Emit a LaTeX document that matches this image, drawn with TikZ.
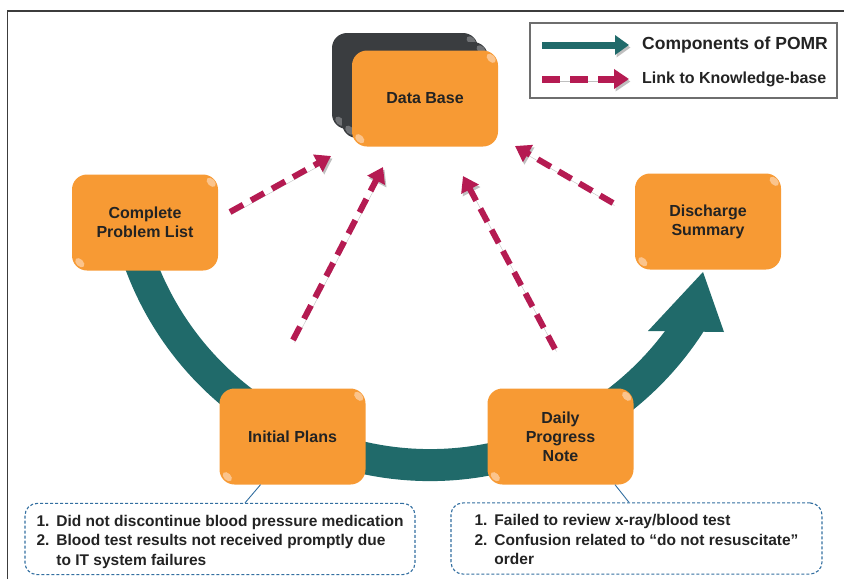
\documentclass[tikz,border=0pt]{standalone}
\usepackage{fontspec}
\setmainfont{Liberation Sans}
\usetikzlibrary{arrows.meta, positioning, calc}

\definecolor{pomrorange}{RGB}{247,154,52}
\definecolor{pomrshine}{RGB}{251,196,140}
\definecolor{pomrteal}{RGB}{32,106,106}
\definecolor{shadegray}{RGB}{58,61,64}
\definecolor{shadeshine}{RGB}{112,114,117}
\definecolor{kbred}{RGB}{181,27,82}
\definecolor{noteblue}{RGB}{50,110,160}
\definecolor{textdark}{RGB}{35,35,35}
\definecolor{framegray}{RGB}{60,60,60}
\definecolor{legendgray}{RGB}{110,110,110}

\tikzset{
  pomrbox/.style={rectangle, rounded corners=15pt, fill=pomrorange, minimum width=146pt, minimum height=96pt,
    align=center, text=textdark, font=\fontsize{16}{19}\selectfont\bfseries},
  dbshade/.style={rectangle, rounded corners=15pt, fill=shadegray, minimum width=146pt, minimum height=96pt},
  kblink/.style={draw=kbred, line width=6pt, dash pattern=on 15pt off 9pt, -{Triangle[length=15pt,width=19pt]},
    preaction={draw=black!25, transform canvas={shift={(1.5pt,-2.5pt)}}}},
  note/.style={draw=noteblue, line width=1.1pt, dash pattern=on 3pt off 2pt, rounded corners=12pt,
    text=textdark, font=\fontsize{15.5}{19.5}\selectfont\bfseries},
  noteline/.style={draw=noteblue, line width=0.9pt},
  legendbox/.style={draw=legendgray, line width=1.2pt, fill=white, minimum width=307pt, minimum height=75pt},
  legendtext/.style={anchor=west, inner sep=0pt, text=textdark, font=\bfseries},
}

% little glossy spots on two corners of a box
\newcommand{\boxshine}[2][pomrshine]{%
  \fill[#1, shift={($(#2.north east)+(-7,8)$)}, rotate=-45] (0,0) ellipse [x radius=5.5pt, y radius=3.5pt];
  \fill[#1, shift={($(#2.south west)+(8,-8)$)}, rotate=-45] (0,0) ellipse [x radius=5.5pt, y radius=3.5pt];
}
% taller first row, so that the list sits a little lower in its box
\newcommand{\toprow}{\rule{0pt}{19.6pt}}

\begin{document}
\begin{tikzpicture}[x=1pt, y=-1pt]
  \useasboundingbox (0,0) rectangle (844,579);
  \draw[framegray, line width=1.5pt] (7.5,579) |- (844,11);

  % the POMR cycle, behind the boxes
  \draw[pomrteal, line width=32pt] (430,156) ++(160:309) arc[start angle=160, end angle=30, radius=309];
  \fill[pomrteal] (648,331) -- (703,272) -- (724,332) -- cycle;

  % data base with its stacked copies
  \node[dbshade] (dbback) at (405,81) {};
  \boxshine[shadeshine]{dbback}
  \node[dbshade] (dbmid) at (415,90) {};
  \boxshine[shadeshine]{dbmid}
  \node[pomrbox] (db) at (425,98.5) {Data Base};
  \boxshine{db}

  \node[pomrbox] (cpl) at (145,222.5) {Complete\\Problem List};
  \boxshine{cpl}
  \node[pomrbox] (ds) at (708,221.5) {Discharge\\Summary};
  \boxshine{ds}
  \node[pomrbox] (ip) at (292.5,436.5) {Initial Plans};
  \boxshine{ip}
  \node[pomrbox] (dpn) at (560.5,436.5) {Daily\\Progress\\Note};
  \boxshine{dpn}

  % links to the knowledge base
  \coordinate (kb1s) at (230,212);
  \coordinate (kb1t) at (331,156);
  \coordinate (kb2s) at (293,340);
  \coordinate (kb2t) at (383,167);
  \coordinate (kb3s) at (555,349);
  \coordinate (kb3t) at (463,176);
  \coordinate (kb4s) at (613,203);
  \coordinate (kb4t) at (515,146);
  \draw[kblink] (kb1s) -- (kb1t);
  \draw[kblink] (kb2s) -- (kb2t);
  \draw[kblink] (kb3s) -- (kb3t);
  \draw[kblink] (kb4s) -- (kb4t);

  % problems found
  \node[note, minimum width=390pt, minimum height=70pt] (ipnote) at (220,539) {%
    \begin{tabular}{@{}l@{\hspace{7pt}}l@{}}
      \toprow 1. & Did not discontinue blood pressure medication\\
      2. & Blood test results not received promptly due\\
         & to IT system failures
    \end{tabular}};
  \node[note, minimum width=371pt, minimum height=69pt] (dpnnote) at (636.5,538.5) {%
    \begin{tabular}{@{}l@{\hspace{7pt}}l@{}}
      \toprow 1. & Failed to review x-ray/blood test\\
      2. & Confusion related to ``do not resuscitate''\\
         & order
    \end{tabular}};
  \draw[noteline] ($(ip.south)+(-32,0)$) -- ($(ipnote.north)+(25,0)$);
  \draw[noteline] ($(dpn.south)+(54.5,0)$) -- ($(dpnnote.north)+(-7.5,0)$);

  % legend
  \node[legendbox] (legend) at (683.5,60.5) {};
  \coordinate (lg1s) at (542,45);
  \coordinate (lg1t) at (629,45);
  \coordinate (lg2s) at (542,79);
  \coordinate (lg2t) at (629,79);
  \draw[pomrteal, line width=7pt, -{Triangle[length=14pt,width=19pt]},
    preaction={draw=black!25, transform canvas={shift={(1.5pt,-2.5pt)}}}] (lg1s) -- (lg1t);
  \draw[kblink, line width=7pt, dash pattern=on 18pt off 10pt] (lg2s) -- (lg2t);
  \node[legendtext, font=\fontsize{17.5}{20}\selectfont\bfseries] (lgpomr) at (642,45) {Components of POMR};
  \node[legendtext, font=\fontsize{16}{19}\selectfont\bfseries] (lgkb) at (642,79) {Link to Knowledge-base};
\end{tikzpicture}
\end{document}
